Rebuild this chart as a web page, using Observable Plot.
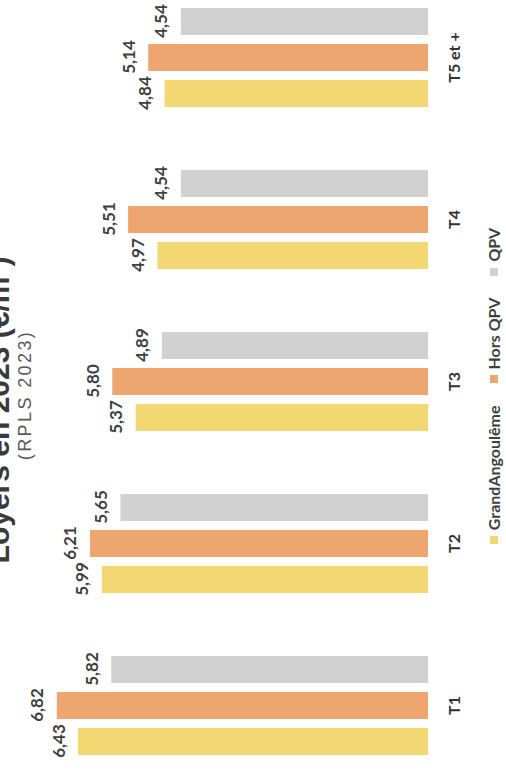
<!DOCTYPE html>
<html>
<head>
<meta charset="utf-8">
<script src="https://cdn.jsdelivr.net/npm/d3@7"></script>
<script src="https://cdn.jsdelivr.net/npm/@observablehq/plot@0.6"></script>
<style>
  html, body { margin: 0; padding: 0; background: #fff; }
  body { width: 506px; height: 772px; overflow: hidden; position: relative; }
  #chart {
    position: absolute; left: 0; top: 0;
    width: 772px; height: 506px;
    transform-origin: 0 0;
    transform: translate(0, 772px) rotate(-90deg);
    background: #fff;
  }
  #title {
    margin: -16px 0 0 0; width: 724px; text-align: center;
    font: bold 30px/30px "Liberation Sans", Arial, sans-serif;
    color: #3a3a3a; white-space: nowrap;
  }
  #subtitle {
    margin: 2px 0 0 0; width: 754px; text-align: center;
    font: 18px/18px "Liberation Sans", Arial, sans-serif;
    letter-spacing: 2.4px; color: #595959; white-space: nowrap;
    position: relative; z-index: 1;
  }
  #plot { margin-top: -30px; }
  #plot svg { display: block; background: transparent !important; overflow: visible; }
  #legend { margin-top: 15px; width: 772px; }
  #legend .lg-swatches {
    font: bold 16px/18px Lato, sans-serif; color: #404040;
    justify-content: center; min-height: 0; margin: 0;
  }
  #legend .lg-swatch { margin-right: 22px; }
  #legend .lg-swatch:last-child { margin-right: 0; }
  #legend .lg-swatch > svg { margin-right: 6px; }
</style>
</head>
<body>
<div id="chart">
  <div id="title">Loyers en 2023 (€/m²)</div>
  <div id="subtitle">(RPLS 2023)</div>
  <div id="plot"></div>
  <div id="legend"></div>
</div>
<script>
const categories = ["T1", "T2", "T3", "T4", "T5 et +"];
const series = ["GrandAngoulême", "Hors QPV", "QPV"];
const grandAngouleme = [6.43, 5.99, 5.37, 4.97, 4.84];
const horsQPV = [6.82, 6.21, 5.80, 5.51, 5.14];
const qpv = [5.82, 5.65, 4.89, 4.54, 4.54];
const colors = ["#F2D773", "#EDA66F", "#D1D1D1"];

const valuesBySeries = [grandAngouleme, horsQPV, qpv];
const data = categories.flatMap((c, i) =>
  series.map((s, j) => ({cat: c, series: s, value: valuesBySeries[j][i]}))
);
const fmt = v => v.toFixed(2).replace(".", ",");

const chart = Plot.plot({
  width: 772,
  height: 466,
  marginLeft: 15,
  marginRight: 7,
  marginTop: 43,
  marginBottom: 42,
  fx: {domain: categories, paddingInner: 0.385, paddingOuter: 0, label: null},
  x: {domain: series, paddingInner: 0.26, paddingOuter: 0, axis: null},
  y: {domain: [0, 7], axis: null},
  color: {domain: series, range: colors},
  style: {fontFamily: "Lato, sans-serif", background: "transparent", overflow: "visible"},
  marks: [
    Plot.barY(data, {fx: "cat", x: "series", y: "value", fill: "series"}),
    Plot.text(data, {
      fx: "cat", x: "series", y: "value",
      text: d => fmt(d.value),
      lineAnchor: "bottom", dy: -14,
      fontSize: 17, fontWeight: "bold", fill: "#404040"
    }),
    Plot.axisFx({
      anchor: "bottom", tickSize: 0, tickPadding: 20, label: null,
      fontSize: 16, fontWeight: "bold", fill: "#333"
    })
  ]
});
document.getElementById("plot").appendChild(chart);

const legend = Plot.legend({
  color: {domain: series, range: colors},
  legend: "swatches",
  swatchSize: 8,
  className: "lg"
});
document.getElementById("legend").appendChild(legend);
</script>
</body>
</html>
